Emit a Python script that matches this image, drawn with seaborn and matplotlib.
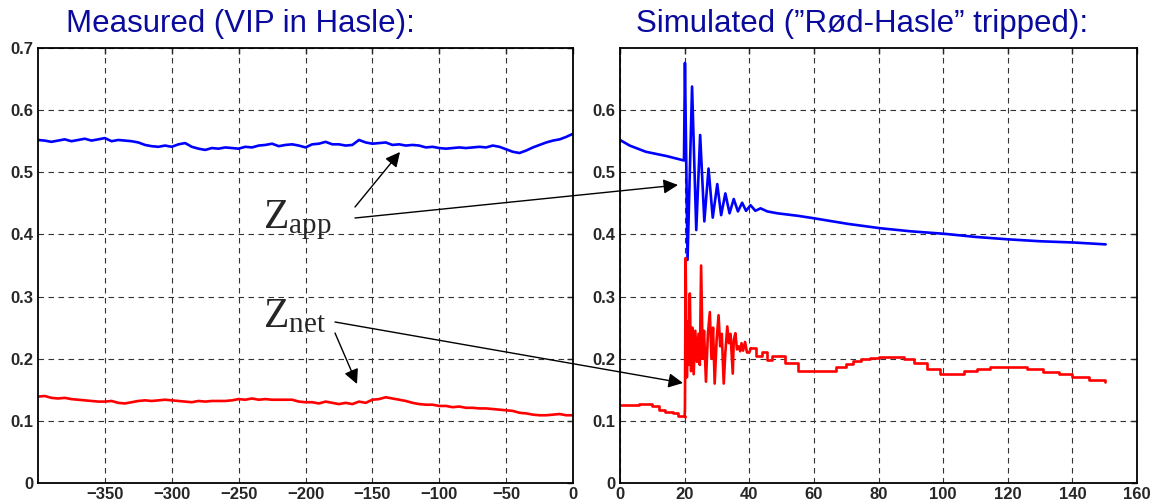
import numpy as np
import pandas as pd
import seaborn as sns
import matplotlib.pyplot as plt
from matplotlib.patches import FancyArrowPatch

# measured (left), time in ms
meas_t = list(range(-400, 1, 5))
meas_zapp = [0.552, 0.551, 0.549, 0.551, 0.553, 0.550, 0.552, 0.554, 0.551, 0.553,
             0.555, 0.550, 0.552, 0.551, 0.550, 0.548, 0.544, 0.542, 0.541, 0.543,
             0.541, 0.545, 0.547, 0.541, 0.538, 0.536, 0.539, 0.538, 0.540, 0.539,
             0.538, 0.541, 0.540, 0.543, 0.544, 0.546, 0.542, 0.544, 0.545, 0.543,
             0.540, 0.545, 0.546, 0.549, 0.545, 0.545, 0.543, 0.544, 0.552, 0.548,
             0.546, 0.547, 0.548, 0.544, 0.545, 0.543, 0.544, 0.543, 0.540, 0.541,
             0.539, 0.538, 0.539, 0.540, 0.539, 0.540, 0.541, 0.540, 0.543, 0.541,
             0.537, 0.533, 0.531, 0.535, 0.540, 0.544, 0.548, 0.551, 0.553, 0.557,
             0.562]
meas_znet = [0.139, 0.140, 0.137, 0.136, 0.137, 0.135, 0.134, 0.133, 0.132, 0.131,
             0.131, 0.132, 0.129, 0.128, 0.130, 0.132, 0.133, 0.132, 0.133, 0.134,
             0.133, 0.132, 0.131, 0.130, 0.132, 0.131, 0.132, 0.132, 0.132, 0.133,
             0.135, 0.134, 0.136, 0.134, 0.135, 0.134, 0.134, 0.134, 0.134, 0.131,
             0.130, 0.130, 0.128, 0.131, 0.129, 0.127, 0.129, 0.127, 0.131, 0.129,
             0.134, 0.135, 0.138, 0.136, 0.134, 0.132, 0.129, 0.127, 0.126, 0.126,
             0.124, 0.124, 0.122, 0.123, 0.121, 0.121, 0.120, 0.120, 0.119, 0.118,
             0.117, 0.116, 0.113, 0.112, 0.110, 0.109, 0.109, 0.110, 0.111, 0.109,
             0.109]

# simulated (right): Zapp
sim_t_app = [0, 3, 8, 14.5, 19.8, 20.1, 20.9, 22.3, 23.6, 24.8,
             26.1, 27.4, 28.7, 30.1, 31.3, 32.6, 33.9, 35.2, 36.5, 37.8,
             39.0, 40.4, 41.9, 43.5, 45.6, 48.7, 55, 60, 70.5, 80.5,
             90, 100.4, 110, 120.4, 130, 140.4, 150.3]
sim_zapp = [0.552, 0.543, 0.533, 0.526, 0.519, 0.676, 0.359, 0.638, 0.407, 0.560,
            0.421, 0.506, 0.427, 0.481, 0.431, 0.466, 0.434, 0.457, 0.437, 0.451,
            0.438, 0.447, 0.438, 0.442, 0.437, 0.434, 0.430, 0.426, 0.417, 0.410,
            0.405, 0.401, 0.396, 0.392, 0.389, 0.387, 0.384]

# simulated Znet: stepped pre-fault part, oscillation, stepped tail
net_head_t = [0, 6, 10, 12, 14, 16.5, 18, 20]
net_head_z = [0.125, 0.127, 0.124, 0.118, 0.115, 0.112, 0.108, 0.107]
net_osc_t = [20, 20.1, 20.3, 20.7, 21.0, 21.3, 21.6, 22.0, 22.4, 22.8,
             23.3, 23.8, 24.3, 24.7, 25.1, 25.6, 26.0, 26.6, 27.2, 27.8,
             28.3, 28.8, 29.3, 29.9, 30.5, 31.0, 31.5, 32.1, 32.6, 33.2,
             33.7, 34.2, 34.9, 35.2, 35.7, 36.2, 36.7, 37.2, 37.6, 38.1,
             38.7, 39.3, 40, 40.5]
net_osc_z = [0.107, 0.120, 0.362, 0.170, 0.260, 0.190, 0.305, 0.180, 0.250, 0.175,
             0.245, 0.195, 0.240, 0.190, 0.350, 0.200, 0.245, 0.163, 0.240, 0.275,
             0.200, 0.250, 0.160, 0.230, 0.270, 0.220, 0.240, 0.160, 0.210, 0.252,
             0.225, 0.240, 0.176, 0.230, 0.241, 0.215, 0.220, 0.212, 0.225, 0.213,
             0.227, 0.210, 0.210, 0.217]
net_tail_t = [40.5, 42, 44, 45.5, 47, 51, 55, 67, 70, 72,
              74.5, 77.5, 80, 88, 91, 95, 99, 106.5, 110.5, 114.5,
              122.5, 126, 131, 136, 140, 145, 150]
net_tail_z = [0.217, 0.205, 0.211, 0.198, 0.205, 0.193, 0.181, 0.187, 0.192, 0.196,
              0.199, 0.201, 0.203, 0.199, 0.193, 0.184, 0.176, 0.180, 0.184, 0.187,
              0.186, 0.183, 0.179, 0.175, 0.171, 0.166, 0.163]

left_xticks = [-350, -300, -250, -200, -150, -100, -50, 0]
right_xticks = [0, 20, 40, 60, 80, 100, 120, 140, 160]

sns.set_style("white")
plt.rcParams['font.family'] = ['Liberation Sans', 'DejaVu Sans']
plt.rcParams['mathtext.fontset'] = 'custom'
plt.rcParams['mathtext.rm'] = 'Liberation Serif'
plt.rcParams['mathtext.it'] = 'Liberation Serif'

W, H = 1152, 503
fig = plt.figure(figsize=(W / 100, H / 100), dpi=100)
axL = fig.add_axes([38 / W, 1 - 483 / H, (573 - 38) / W, (483 - 48) / H])
axR = fig.add_axes([620 / W, 1 - 483 / H, (1137 - 620) / W, (483 - 48) / H])

kw = dict(lw=1.9, estimator=None, sort=False)
sns.lineplot(x=meas_t, y=meas_zapp, ax=axL, color='#0000ff', **kw)
sns.lineplot(x=meas_t, y=meas_znet, ax=axL, color='#ff0000', **kw)
sns.lineplot(x=sim_t_app, y=sim_zapp, ax=axR, color='#0000ff', **kw)
sns.lineplot(x=net_head_t, y=net_head_z, ax=axR, color='#ff0000', drawstyle='steps-post', **kw)
sns.lineplot(x=net_osc_t, y=net_osc_z, ax=axR, color='#ff0000', **kw)
sns.lineplot(x=net_tail_t, y=net_tail_z, ax=axR, color='#ff0000', drawstyle='steps-post', **kw)

axL.set_xlim(-400, 0)
axL.set_xticks(left_xticks)
axL.set_yticks([0, 0.1, 0.2, 0.3, 0.4, 0.5, 0.6, 0.7])
axL.set_yticklabels(['0', '0.1', '0.2', '0.3', '0.4', '0.5', '0.6', '0.7'])
axR.set_xlim(0, 160)
axR.set_xticks(right_xticks)
axR.set_yticks([0, 0.1, 0.2, 0.3, 0.4, 0.5, 0.6])
axR.set_yticklabels(['0', '0.1', '0.2', '0.3', '0.4', '0.5', '0.6'])

for ax in (axL, axR):
    ax.set_ylim(0, 0.7)
    ax.grid(True, color='#333333', linestyle=(0, (5, 4)), linewidth=0.8)
    ax.tick_params(direction='in', top=True, right=True, length=4, width=1,
                   labelsize=12, pad=3)
    for lab in ax.get_xticklabels() + ax.get_yticklabels():
        lab.set_fontweight('bold')
    for s in ax.spines.values():
        s.set_color('black')
        s.set_linewidth(1.3)

title_color = '#0a0a9c'
fig.text(66 / W, 1 - 24 / H, 'Measured (VIP in Hasle):', fontsize=22.5,
         color=title_color, ha='left', va='center')
fig.text(636 / W, 1 - 24 / H, 'Simulated (\u201dRød-Hasle\u201d tripped):', fontsize=22.5,
         color=title_color, ha='left', va='center')

fig.text(263 / W, 1 - 228 / H, r'$\mathrm{Z}_{\mathrm{app}}$', fontsize=30, ha='left', va='baseline')
fig.text(263 / W, 1 - 327 / H, r'$\mathrm{Z}_{\mathrm{net}}$', fontsize=30, ha='left', va='baseline')

arrows = [((355, 207), (400, 152)), ((355, 218), (678, 185)),
          ((335, 322), (683, 383)), ((335, 333), (357, 384))]
for (x0, y0), (x1, y1) in arrows:
    fig.add_artist(FancyArrowPatch((x0 / W, 1 - y0 / H), (x1 / W, 1 - y1 / H),
                                   transform=fig.transFigure, arrowstyle='-|>',
                                   mutation_scale=22, lw=1.0, color='black',
                                   shrinkA=0, shrinkB=0))

fig.savefig('out.png', dpi=100)
